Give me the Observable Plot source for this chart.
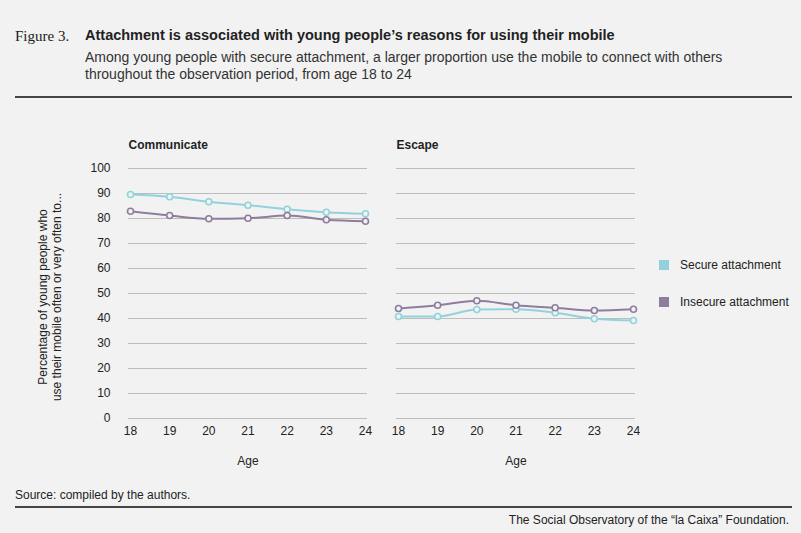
<!DOCTYPE html><html><head><meta charset="utf-8">
<script src="https://cdn.jsdelivr.net/npm/d3@7"></script>
<script src="https://cdn.jsdelivr.net/npm/@observablehq/plot@0.6"></script>
<style>
body{margin:0;background:#f2f2f2;font-family:"Liberation Sans",Arial,sans-serif;color:#222;width:801px;height:533px;position:relative;overflow:hidden}
.a{position:absolute}
</style></head><body>
<div class="a" style="left:15px;top:28px;font-family:'Liberation Serif',serif;font-size:15px">Figure 3.</div>
<div class="a" style="left:85px;top:27px;font-size:14.5px;font-weight:bold">Attachment is associated with young people’s reasons for using their mobile</div>
<div class="a" style="left:85px;top:49px;font-size:14px;line-height:17px;color:#333">Among young people with secure attachment, a larger proportion use the mobile to connect with others<br>throughout the observation period, from age 18 to 24</div>
<div class="a" style="left:15px;top:96px;width:777px;border-top:2px solid #444"></div>
<div class="a" style="left:-70px;top:283px;width:240px;text-align:center;font-size:12px;line-height:14px;transform:rotate(-90deg)">Percentage of young people who<br>use their mobile often or very often to...</div>
<div id="chart" class="a" style="left:0;top:130px"></div>
<div class="a" style="left:659px;top:260px;width:10px;height:10px;background:#92d2dc"></div>
<div class="a" style="left:680px;top:258px;font-size:12px">Secure attachment</div>
<div class="a" style="left:659px;top:297px;width:10px;height:10px;background:#8e7d9c"></div>
<div class="a" style="left:680px;top:295px;font-size:12px">Insecure attachment</div>
<div class="a" style="left:15px;top:488px;font-size:12px">Source: compiled by the authors.</div>
<div class="a" style="left:15px;top:506px;width:777px;border-top:2px solid #444"></div>
<div class="a" style="right:12px;top:513px;font-size:12px">The Social Observatory of the “la Caixa” Foundation.</div>
<script>
const ages=[18,19,20,21,22,23,24];
const panels=["Communicate","Escape"];
const groups=["Secure attachment","Insecure attachment"];
const commSecure=[89.6,88.7,86.7,85.3,83.7,82.5,81.9];
const commInsecure=[82.9,81.2,79.9,80.1,81.2,79.5,78.9];
const escSecure=[40.8,40.8,43.6,43.7,42.3,39.9,39.2];
const escInsecure=[44,45.3,47.1,45.3,44.3,43.2,43.7];
const series=[[panels[0],groups[0],commSecure],[panels[0],groups[1],commInsecure],[panels[1],groups[0],escSecure],[panels[1],groups[1],escInsecure]];
const data=series.flatMap(([p,g,v])=>ages.map((a,i)=>({panel:p,group:g,age:a,value:v[i]})));
const color={domain:groups,range:["#92d2dc","#8e7d9c"]};
const chart=Plot.plot({
 width:640,height:345,marginLeft:128,marginRight:5,marginTop:38,marginBottom:57,
 style:{background:"transparent",fontSize:"12px",fontFamily:"Liberation Sans, Arial, sans-serif",color:"#222"},
 fx:{domain:panels,axis:null,padding:0.11},
 x:{domain:[18,24],tickSize:0,inset:2},
 y:{domain:[0,100],label:null},
 color,
 marks:[
  Plot.gridY(d3.range(0,101,10),{stroke:"#bdbdbd",strokeOpacity:1}),
  Plot.axisY(d3.range(0,101,10),{tickSize:0,tickPadding:18,label:null,fontSize:12,facetAnchor:"left"}),
  Plot.axisX(ages,{tickSize:0,tickPadding:8,tickFormat:d=>String(d),label:null,fontSize:12}),
  Plot.text(panels,{fx:d=>d,text:()=>"Age",frameAnchor:"bottom",dy:46,fontSize:12}),
  Plot.text(panels,{fx:d=>d,text:d=>d,frameAnchor:"top-left",dy:-28,fontWeight:"bold",fontSize:12}),
  Plot.line(data,{fx:"panel",x:"age",y:"value",stroke:"group",strokeWidth:2,curve:"monotone-x"}),
  Plot.dot(data,{fx:"panel",x:"age",y:"value",stroke:"group",fill:"#f2f2f2",strokeWidth:1.6,r:3})
 ]
});
document.getElementById("chart").appendChild(chart);
</script></body></html>
